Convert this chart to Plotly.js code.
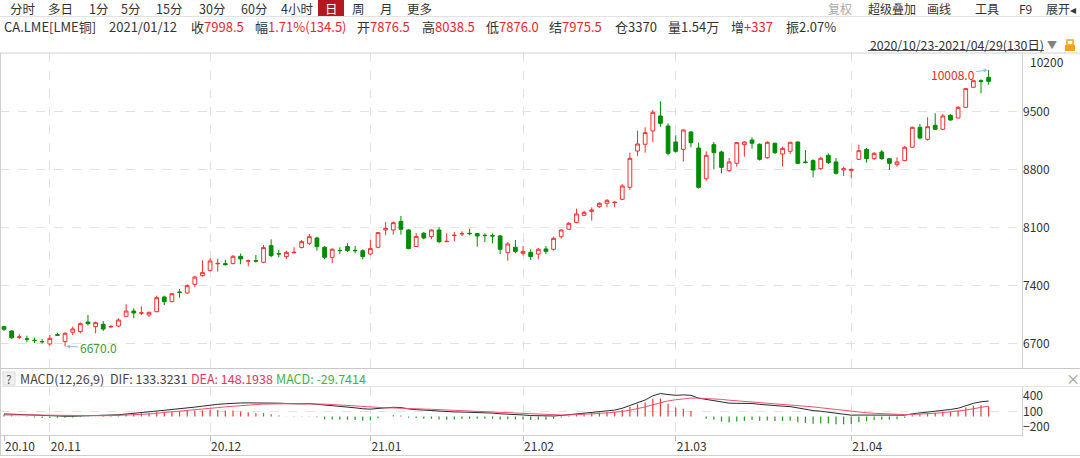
<!DOCTYPE html>
<html><head><meta charset="utf-8">
<script src="https://cdn.plot.ly/plotly-3.0.1.min.js"></script>
<style>html,body{margin:0;padding:0;background:#fff;}#chart{width:1080px;height:458px;}</style>
</head><body><div id="chart"></div>
<script>
// ---- data ----
const opens = [6909,6857,6780,6762,6745,6730,6700,6812,6728,6841,
6849,6965,6909,6937,6905,6917,7034,7098,7072,7050,
7090,7267,7211,7327,7315,7420,7524,7589,7668,7670,
7670,7758,7700,7705,7686,7887,7790,7754,7800,7863,
7915,7979,7867,7746,7829,7875,7829,7826,7786,7867,
8076,8076,8180,8076,7876.5,8036,7995,8076,7935,8008,
8028,8036,8032,8012,8008,8004,7802,7867,7794,7806,
7786,7847,7843,7995,8084,8168,8253,8301,8358,8398,
8406,8446,8591,9029,9110,9271,9452,9331,9138,9049,
9259,9065,8695,9106,9017,8792,8881,9106,9162,9110,
8949,9122,8993,9025,9138,8896,8913,8816,8977,8897,
8800,8792,8929,9049,8937,9017,8937,8864,8913,9074,
9315,9170,9339,9291,9460,9428,9556,9798,9878,9918];
const highs = [6921,6865,6817,6800,6776,6760,6808,6835,6841,6909,
6961,7050,6969,6977,6929,7010,7179,7130,7154,7090,
7283,7283,7315,7364,7420,7524,7710,7734,7730,7718,
7774,7790,7718,7774,7895,7963,7835,7826,7867,7955,
8028,7995,7883,7855,7867,7915,7883,7842,7955,8052,
8172,8180,8245,8084,8038.5,8052,8084,8108,8036,8052,
8060,8092,8036,8036,8036,8016,7931,7955,7883,7843,
7859,7883,7995,8084,8172,8333,8309,8349,8410,8446,
8426,8631,9009,9275,9315,9524,9629,9363,9218,9291,
9267,9130,9025,9138,9033,8945,9138,9146,9194,9122,
9146,9130,9082,9142,9146,9041,8929,8961,9001,8945,
8840,8816,9106,9065,9017,9041,8945,8953,9090,9323,
9355,9436,9484,9476,9472,9572,9790,9886,9894,10008];
const lows = [6857,6760,6760,6720,6712,6705,6680,6795,6670,6809,
6829,6921,6829,6857,6897,6905,7030,7010,7050,7026,
7082,7170,7203,7259,7307,7388,7513,7573,7573,7645,
7662,7662,7637,7682,7674,7746,7746,7726,7794,7855,
7895,7826,7722,7674,7786,7810,7794,7722,7770,7855,
8011,8020,8020,7843,7876,7963,7963,7915,7931,7939,
8003,8011,7875,7931,7915,7786,7705,7794,7766,7714,
7722,7786,7826,7971,8076,8156,8245,8189,8341,8350,
8350,8438,8559,8969,9009,9138,9323,8977,9009,8901,
9074,8575,8671,8808,8760,8776,8840,8961,9057,8913,
8933,8993,8840,8993,8872,8880,8712,8800,8872,8744,
8728,8700,8921,8889,8921,8921,8800,8840,8905,9065,
9170,9154,9283,9283,9395,9420,9548,9790,9725,9830];
const closes = [6877,6776,6785,6758,6742,6727,6768,6806,6829,6881,
6945,6945,6957,6881,6911,6990,7098,7074,7076,7082,
7259,7211,7307,7323,7404,7508,7561,7702,7672,7658,
7758,7726,7704,7700,7863,7766,7786,7806,7806,7935,
7995,7875,7746,7843,7827,7827,7826,7754,7851,8044,
8095,8164,8084,7851,7998.5,7979,8076,7935,7939,8012,
8032,8032,8003,8008,8003,7843,7907,7818,7818,7754,
7843,7818,7975,8076,8156,8269,8289,8317,8398,8434,
8410,8607,8941,9114,9251,9496,9363,9001,9025,9283,
9130,8591,8977,9009,8832,8897,9130,9138,9122,8929,
9134,9009,9061,9134,8880,8892,8800,8941,8889,8760,
8816,8808,9033,8937,9001,8937,8880,8897,9074,9315,
9186,9323,9291,9452,9403,9556,9782,9878,9870,9870];
const dif = [50,44,36,28,20,13,10,9,5,5,
8,12,16,20,26,34,48,60,72,84,
108,120,136,148,164,182,200,222,236,246,
258,262,264,262,272,268,258,250,244,245,
250,238,212,202,190,180,168,150,142,156,
168,178,174,146,133,122,118,104,92,88,
86,84,78,72,66,52,48,38,30,18,
12,4,10,20,34,52,68,82,98,114,
124,160,215,270,320,400,445,425,410,418,
410,355,330,312,282,258,255,254,252,235,
228,212,200,192,165,142,115,102,85,60,
42,26,28,26,28,24,16,14,26,52,
66,88,100,122,136,160,210,255,285,300];
const dea = [30,33,34,33,30,27,24,21,18,15,
14,14,14,15,17,20,26,33,41,50,
62,74,86,98,111,125,140,156,172,187,
201,213,223,231,239,245,248,248,247,247,
248,246,239,232,222,212,202,190,178,172,
168,166,164,157,150,144,139,132,124,117,
111,106,100,94,88,81,74,67,60,52,
44,36,31,29,30,34,41,49,59,70,
81,97,121,151,185,228,271,302,324,343,
356,356,351,343,331,316,304,294,286,276,
266,255,244,234,220,204,186,169,152,134,
116,98,84,72,63,55,47,40,37,40,
45,54,63,75,87,102,124,150,177,202];
const macdBar = [40,22,4,-10,-20,-28,-28,-24,-26,-20,
-12,-4,4,10,18,28,44,54,62,68,
92,92,100,100,106,114,120,132,128,118,
114,98,82,62,66,46,20,4,-6,-4,
4,-16,-54,-60,-64,-64,-68,-80,-72,-32,
0,24,20,-22,-30,-44,-42,-56,-64,-58,
-50,-44,-44,-44,-44,-58,-52,-58,-60,-68,
-64,-64,-42,-18,8,36,54,66,78,88,
86,126,188,238,270,344,348,246,172,150,
108,-2,-42,-62,-98,-116,-98,-80,-68,-82,
-76,-86,-88,-84,-110,-124,-142,-134,-134,-148,
-148,-144,-112,-92,-70,-62,-62,-52,-22,24,
42,68,74,94,98,116,172,210,216,196];
const monthTickPos = [0, 6, 27, 48, 68, 88, 111];
const monthLabels = ['20.10','20.11','20.12','21.01','21.02','21.03','21.04'];
const monthGrid = [6, 27, 48, 68, 88, 111];
const priceTicks = [6700, 7400, 8100, 8800, 9500];
const macdTicks = [-200, 100, 400];
const lowMark = {i: 8, v: 6670, label: '6670.0'};
const highMark = {i: 129, v: 10008, label: '10008.0'};

// ---- layout helpers ----
const W = 1080, H = 458;
const px = x => x / W;
const py = y => 1 - y / H;
const FONT = '"Noto Sans CJK SC", "Noto Sans", sans-serif';
const RED = '#e8262c';
const DARK = '#333333';
const annotations = [];
function txt(x, y, text, o = {}) {
  annotations.push({xref:'paper', yref:'paper', x:px(x), y:py(y), text:text, showarrow:false,
    xanchor:o.anchor || 'left', yanchor:'middle',
    font:{family:FONT, size:o.size || 13, color:o.color || DARK}});
}
const r = v => `<span style="color:${RED}">${v}</span>`;
// toolbar
[['分时',8],['多日',46],['1分',87],['5分',119],['15分',154],['30分',197],['60分',239],['4小时',279],['周',350],['月',378],['更多',405]]
  .forEach(([t,x]) => txt(x, 8.5, t, {size:12.5}));
txt(331, 8.5, '日', {anchor:'center', color:'#ffffff', size:12.5});
txt(826, 8.5, '复权', {color:'#a8a8a8', size:12});
txt(866, 8.5, '超级叠加', {size:12});
txt(925, 8.5, '画线', {size:12});
txt(973, 8.5, '工具', {size:12});
txt(1017, 8.5, 'F9', {size:12});
txt(1044, 8.5, '展开◂', {size:12});
// info row
txt(2, 26, 'CA.LME[LME铜]');
txt(107, 26, '2021/01/12');
txt(189, 26, '收' + r('7998.5'));
txt(253, 26, '幅' + r('1.71%(134.5)'));
txt(355, 26, '开' + r('7876.5'));
txt(420, 26, '高' + r('8038.5'));
txt(484, 26, '低' + r('7876.0'));
txt(547, 26, '结' + r('7975.5'));
txt(613, 26, '仓3370');
txt(666, 26, '量1.54万');
txt(729, 26, '增' + r('+337'));
txt(784, 26, '振2.07%');
txt(868, 45, '2020/10/23-2021/04/29(130日)', {size:12.3});
txt(1052, 45, '▼', {anchor:'center', color:'#808080', size:10});
// MACD header
txt(9, 378.5, '?', {anchor:'center', color:'#555', size:12});
txt(18, 378.5, 'MACD(12,26,9)', {color:'#444', size:12.5});
txt(108, 378.5, 'DIF: 133.3231', {color:'#444', size:12.5});
txt(189, 378.5, 'DEA: 148.1938', {color:'#e2385c', size:12.5});
txt(274, 378.5, 'MACD: -29.7414', {color:'#3db24b', size:12.5});
txt(1073, 378, '×', {anchor:'center', color:'#999', size:14});
txt(1028, 61, '10200', {size:12});
// extreme value marks
annotations.push({xref:'x', yref:'y', x:lowMark.i, y:lowMark.v, text:lowMark.label, showarrow:true,
  ax:33, ay:1, arrowcolor:'#8fbde6', arrowwidth:1, arrowhead:2, arrowsize:0.8, standoff:1,
  font:{family:FONT, size:12, color:'#3d9b3d'}});
annotations.push({xref:'x', yref:'y', x:highMark.i, y:highMark.v, text:highMark.label, showarrow:true,
  ax:-36, ay:5, arrowcolor:'#8fbde6', arrowwidth:1, arrowhead:2, arrowsize:0.8, standoff:1,
  font:{family:FONT, size:12, color:RED}});

function line(x0, y0, x1, y1, color, w = 1) {
  return {type:'line', xref:'paper', yref:'paper', x0:px(x0), y0:py(y0), x1:px(x1), y1:py(y1),
    line:{color:color, width:w}, layer:'above'};
}
function rect(x0, y0, x1, y1, fill, lc) {
  return {type:'rect', xref:'paper', yref:'paper', x0:px(x0), y0:py(y0), x1:px(x1), y1:py(y1),
    fillcolor:fill, line:{color:lc || fill, width:lc ? 1 : 0}, layer:'below'};
}
const shapes = [
  rect(318, 0, 344, 16, '#b3191f'),
  line(0, 16.5, 1080, 16.5, '#e2e2e2'),
  line(868, 50.5, 1044, 50.5, '#555555'),
  rect(1065, 45, 1075, 51, '#f2a31c'),
  {type:'rect', xref:'paper', yref:'paper', x0:px(1067), y0:py(45), x1:px(1073), y1:py(40), line:{color:'#f2a31c', width:1.5}, fillcolor:'rgba(0,0,0,0)'},
  line(0, 53, 1080, 53, '#d0d0d0'),
  line(0.5, 53, 0.5, 456, '#d0d0d0'),
  line(1022.5, 53, 1022.5, 368, '#d0d0d0'),
  line(1022.5, 387, 1022.5, 436, '#d0d0d0'),
  line(0, 368.5, 1080, 368.5, '#c8c8c8'),
  rect(3, 372, 15, 385, '#f0f0f0', '#d8d8d8'),
  line(0, 386.5, 1080, 386.5, '#e4e4e4'),
  line(0, 435.5, 1022, 435.5, '#d0d0d0'),
  line(0, 455.5, 1080, 455.5, '#d0d0d0')
];

const idx = closes.map((_, i) => i);
const traces = [
  {type:'candlestick', x:idx, open:opens, high:highs, low:lows, close:closes, xaxis:'x', yaxis:'y',
   increasing:{line:{color:'#f23030', width:1}, fillcolor:'#ffffff'},
   decreasing:{line:{color:'#008c00', width:1}, fillcolor:'#008c00'},
   whiskerwidth:0, hoverinfo:'skip', showlegend:false},
  {type:'bar', x:idx, y:macdBar, xaxis:'x2', yaxis:'y2', width:0.16,
   marker:{color:macdBar.map(v => v >= 0 ? '#f03c3c' : '#259a25'), line:{width:0}},
   hoverinfo:'skip', showlegend:false},
  {type:'scatter', mode:'lines', x:idx, y:dif, xaxis:'x2', yaxis:'y2',
   line:{color:'#2a2a2a', width:1}, hoverinfo:'skip', showlegend:false},
  {type:'scatter', mode:'lines', x:idx, y:dea, xaxis:'x2', yaxis:'y2',
   line:{color:'#f0506e', width:1}, hoverinfo:'skip', showlegend:false},
  // empty trace so that the label axis (x3) is created
  {type:'scatter', mode:'lines', x:[], y:[], xaxis:'x3', yaxis:'y2', hoverinfo:'skip', showlegend:false}
];

const xr = [-0.524, 133.37];
const xdom = [0, 1022 / W];
const layout = {
  width:W, height:H, margin:{l:0, r:0, t:0, b:0},
  paper_bgcolor:'#ffffff', plot_bgcolor:'#ffffff',
  font:{family:FONT, size:12, color:DARK},
  showlegend:false,
  xaxis:{domain:xdom, range:xr, anchor:'y', showticklabels:false, tickmode:'array', tickvals:monthGrid,
    showgrid:true, gridcolor:'#e2e2e2', griddash:'dash', zeroline:false, showline:false, ticks:'',
    rangeslider:{visible:false}, fixedrange:true},
  yaxis:{domain:[py(368), py(53)], range:[6410, 10212], side:'right', anchor:'x', tickmode:'array',
    tickvals:priceTicks, showgrid:true, gridcolor:'#e2e2e2', griddash:'dash', zeroline:false,
    showline:false, ticks:'', tickfont:{size:12, color:DARK}, fixedrange:true},
  xaxis2:{domain:xdom, range:xr, anchor:'y2', tickmode:'array', tickvals:monthTickPos,
    ticks:'outside', ticklen:5, tickcolor:'#c0c0c0', showgrid:false, zeroline:false, showline:false,
    showticklabels:false,
    minor:{tickmode:'array', tickvals:monthGrid, showgrid:true, gridcolor:'#e2e2e2', griddash:'dash', ticks:''},
    fixedrange:true},
  xaxis3:{overlaying:'x2', anchor:'free', position:py(437.5), side:'bottom', range:xr, tickmode:'array',
    tickvals:monthTickPos, ticktext:monthLabels, ticks:'', showgrid:false, zeroline:false, showline:false,
    ticklabelshift:16, tickfont:{size:12, color:DARK}, fixedrange:true},
  yaxis2:{domain:[py(435), py(387)], range:[-358, 571], side:'right', anchor:'x2', tickmode:'array',
    tickvals:macdTicks, showgrid:false, zeroline:false, showline:false, ticks:'',
    tickfont:{size:12, color:DARK},
    minor:{tickmode:'array', tickvals:[100], showgrid:true, gridcolor:'#e2e2e2', griddash:'dash', ticks:''},
    fixedrange:true},
  annotations:annotations,
  shapes:shapes
};
Plotly.newPlot('chart', traces, layout, {staticPlot:true, displayModeBar:false});
</script></body></html>
